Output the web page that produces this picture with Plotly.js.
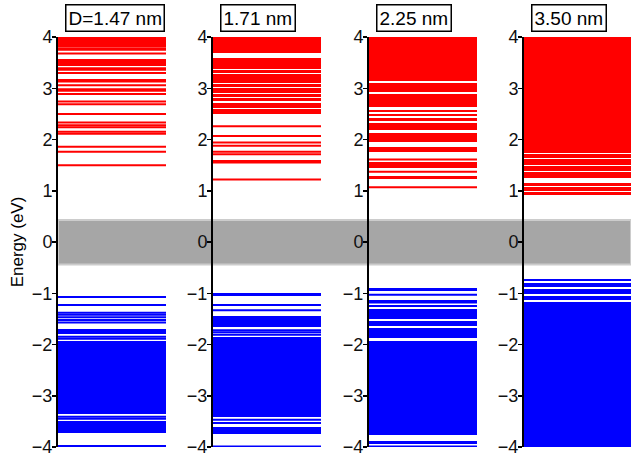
<!DOCTYPE html>
<html><head><meta charset="utf-8">
<script src="https://cdn.plot.ly/plotly-3.0.1.min.js"></script>
<style>html,body{margin:0;padding:0;background:#fff}</style>
</head><body><div id="chart" style="width:631px;height:461px"></div>
<script>
// ---- data (energies in eV) ----
const panelLabels = ["D=1.47 nm", "1.71 nm", "2.25 nm", "3.50 nm"];
const yTicks = [-4, -3, -2, -1, 0, 1, 2, 3, 4];
const gapRange = [-0.44, 0.43];

// D = 1.47 nm
const condLevels147 = [3.78, 3.75, 3.68, 3.39, 3.36, 3.30, 3.16, 3.13, 3.06, 2.98, 2.95, 2.89, 2.74, 2.69, 2.50, 2.33, 2.28, 2.24, 2.15, 2.11, 1.86, 1.76, 1.50];
const condBands147 = [[3.81, 4.0], [3.43, 3.58]];
const valLevels147 = [-1.23, -1.38, -1.42, -1.47, -1.52, -1.57, -1.85, -1.89, -3.41, -3.45, -3.98];
const valBands147 = [[-1.09, -1.05], [-1.80, -1.70], [-3.36, -1.93], [-3.73, -3.49]];

// D = 1.71 nm
const condLevels171 = [2.26, 2.07, 1.94, 1.88, 1.76, 1.71, 1.58, 1.55, 1.22];
const condBands171 = [[3.68, 4.0], [3.42, 3.60], [3.37, 3.41], [3.30, 3.35], [3.11, 3.28], [3.03, 3.09], [2.91, 3.01], [2.83, 2.89], [2.75, 2.81], [2.62, 2.72], [2.50, 2.60]];
const valLevels171 = [-1.23, -1.33, -1.72, -1.76, -1.81, -3.47, -3.53, -3.99];
const valBands171 = [[-1.06, -0.99], [-1.65, -1.44], [-3.42, -1.86], [-3.75, -3.60]];

// D = 2.25 nm
const condLevels225 = [1.61, 1.37, 1.07];
const condBands225 = [[3.15, 4.0], [2.92, 3.11], [2.64, 2.89], [2.54, 2.58], [2.45, 2.50], [2.37, 2.41], [2.19, 2.33], [1.96, 2.13], [1.76, 1.86], [1.44, 1.56], [1.22, 1.29]];
const valLevels225 = [-1.03, -1.15, -1.18, -1.25, -3.99];
const valBands225 = [[-0.95, -0.90], [-1.51, -1.31], [-1.64, -1.54], [-1.88, -1.67], [-3.77, -1.93], [-3.95, -3.89]];

// D = 3.50 nm
const condLevels350 = [];
const condBands350 = [[1.74, 4.0], [1.64, 1.71], [1.51, 1.61], [1.38, 1.48], [1.25, 1.36], [1.10, 1.16], [1.00, 1.08], [0.91, 0.98]];
const valLevels350 = [];
const valBands350 = [[-0.76, -0.72], [-0.88, -0.80], [-1.02, -0.91], [-1.13, -1.05], [-4.0, -1.17]];

const panels = [
  {cl: condLevels147, cb: condBands147, vl: valLevels147, vb: valBands147},
  {cl: condLevels171, cb: condBands171, vl: valLevels171, vb: valBands171},
  {cl: condLevels225, cb: condBands225, vl: valLevels225, vb: valBands225},
  {cl: condLevels350, cb: condBands350, vl: valLevels350, vb: valBands350}
];

// ---- layout geometry ----
const plotW = 631 - 58;
const axisPx = [0, 155, 311, 466];
const lineW = 108;
const RED = '#ff0000', BLUE = '#0000ff';

function ax(i){ return i === 0 ? '' : String(i + 1); }

function levelTrace(levels, color, i){
  const x = [], y = [];
  levels.forEach(e => { x.push(0, 1, null); y.push(e, e, null); });
  return {type:'scatter', mode:'lines', x, y, line:{color, width:2},
    xaxis:'x'+ax(i), yaxis:'y'+ax(i), hoverinfo:'skip', showlegend:false, cliponaxis:true};
}
function bandTrace(bands, color, i){
  return {type:'bar', x: bands.map(() => 0.5), base: bands.map(b => b[0]),
    y: bands.map(b => b[1] - b[0]), width: bands.map(() => 1),
    marker:{color, line:{width:0}}, xaxis:'x'+ax(i), yaxis:'y'+ax(i),
    hoverinfo:'skip', showlegend:false};
}

const traces = [];
const layout = {
  width:631, height:461, margin:{l:58, r:0, t:37, b:14},
  paper_bgcolor:'#fff', plot_bgcolor:'rgba(0,0,0,0)', barmode:'overlay', bargap:0,
  font:{family:'Arial, Liberation Sans, sans-serif', color:'#000'},
  showlegend:false,
  shapes:[{type:'rect', xref:'paper', yref:'y', x0:0, x1:1, y0:gapRange[0], y1:gapRange[1],
    fillcolor:'#a6a6a6', line:{color:'#cccccc', width:2}, layer:'below'}],
  annotations:[]
};

panels.forEach((p, i) => {
  traces.push(bandTrace(p.cb, RED, i), levelTrace(p.cl, RED, i),
              bandTrace(p.vb, BLUE, i), levelTrace(p.vl, BLUE, i));
  const d0 = axisPx[i] / plotW;
  const d1 = Math.min(1, (axisPx[i] + lineW) / plotW);
  layout['xaxis' + ax(i)] = {domain:[d0, d1], range:[0, 1], visible:false, fixedrange:true, anchor:'y'+ax(i)};
  layout['yaxis' + ax(i)] = {anchor:'x'+ax(i), range:[-4, 4], tickvals:yTicks,
    showline:true, linecolor:'#000', linewidth:2, ticks:'outside', ticklen:4, tickwidth:1.5,
    tickcolor:'#000', tickfont:{size:18, color:'#111'}, ticklabelstandoff:-4,
    showgrid:false, zeroline:false, fixedrange:true};
  layout.annotations.push({xref:'paper', yref:'paper', x:(axisPx[i] + 7) / plotW, y:1.046,
    xanchor:'left', yanchor:'middle', text:panelLabels[i], showarrow:false,
    font:{size:19, color:'#000'}, bordercolor:'#000', borderwidth:1.5, borderpad:2, bgcolor:'#fff'});
});
layout.yaxis.title = {text:'Energy (eV)', font:{size:17, color:'#000'}, standoff:4};

Plotly.newPlot('chart', traces, layout, {staticPlot:true, displayModeBar:false});
</script>
</body></html>
